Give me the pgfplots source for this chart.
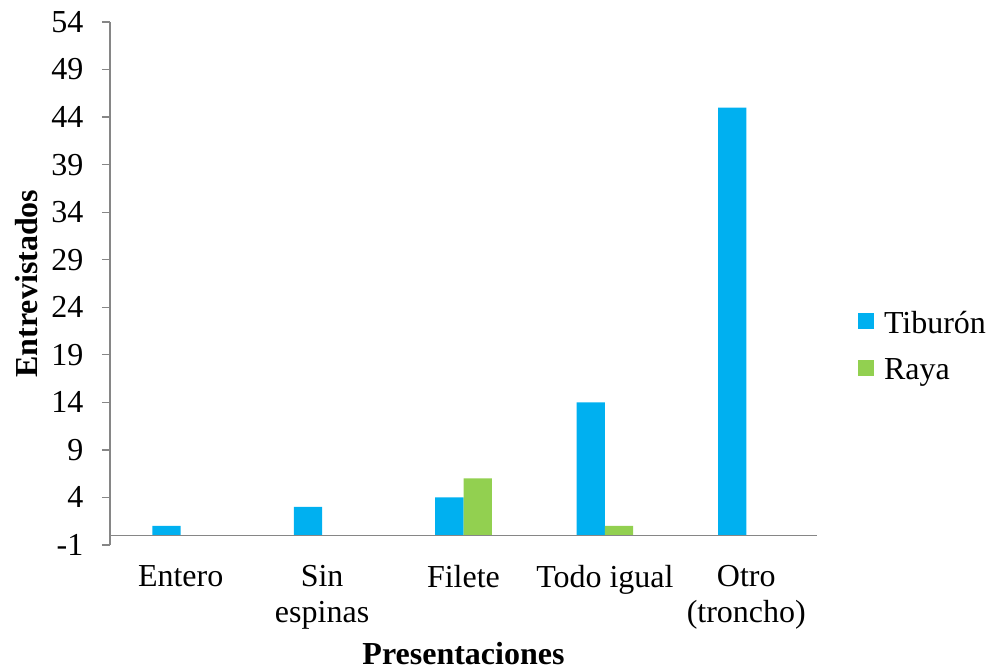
\documentclass[border=0pt]{standalone}
\usepackage{pgfplots}
\pgfplotsset{compat=1.18}
\usepackage{fontspec}
\setmainfont{Liberation Serif}

\definecolor{tiburon}{HTML}{00B0F0}
\definecolor{raya}{HTML}{92D050}
\definecolor{axisgray}{RGB}{134,134,134}

\begin{document}
\begin{tikzpicture}
\useasboundingbox (0,0) rectangle (494pt,334pt);
\begin{axis}[
  at={(55pt,61.5pt)}, anchor=south west,
  scale only axis, width=353.5pt, height=261.5pt,
  xmin=-0.5, xmax=4.5, ymin=-1, ymax=54,
  ytick={-1,4,...,54},
  xtick={0,...,4},
  xticklabels={Entero, Sin\\espinas, Filete, Todo igual, Otro\\(troncho)},
  /pgf/number format/assume math mode=true,
  axis lines*=left,
  x axis line style={draw=none},
  y axis line style={draw=axisgray, line width=0.6pt},
  xtick style={draw=none},
  ytick style={draw=axisgray, line width=0.6pt},
  tick align=outside,
  major tick length=4pt,
  yticklabel style={font=\fontsize{16}{18}\selectfont, xshift=-5.8pt},
  xticklabel style={align=center, font=\fontsize{16}{18}\selectfont, anchor=north, yshift=-2.5pt},
  xlabel={Presentaciones},
  ylabel={Entrevistados},
  xlabel style={font=\bfseries\fontsize{16}{18}\selectfont, at={(axis description cs:0.5,0)}, anchor=base, yshift=-59.5pt},
  ylabel style={font=\bfseries\fontsize{16}{18}\selectfont, at={(axis description cs:0,0.5)}, anchor=center, yshift=41.5pt},
  ybar, bar width=0.2,
  legend style={draw=none, fill=none, inner sep=0pt, at={(axis description cs:1.058,0.379)}, anchor=west,
    font=\fontsize{16}{18}\selectfont, row sep=7pt,
    nodes={inner xsep=5pt}},
  legend cell align=left,
  legend image code/.code={\fill[#1] (0pt,-2.6pt) rectangle (7.8pt,5.2pt);},
  clip=false,
]
\addplot[fill=tiburon, draw=none, bar shift=-0.1] coordinates {(0,1) (1,3) (2,4) (3,14) (4,45)};
\addplot[fill=raya, draw=none, bar shift=0.1] coordinates {(0,0) (1,0) (2,6) (3,1) (4,0)};
\legend{Tiburón, Raya}
\draw[axisgray, line width=0.6pt] (axis cs:-0.5,0) -- (axis cs:4.5,0);
\end{axis}
\end{tikzpicture}
\end{document}
